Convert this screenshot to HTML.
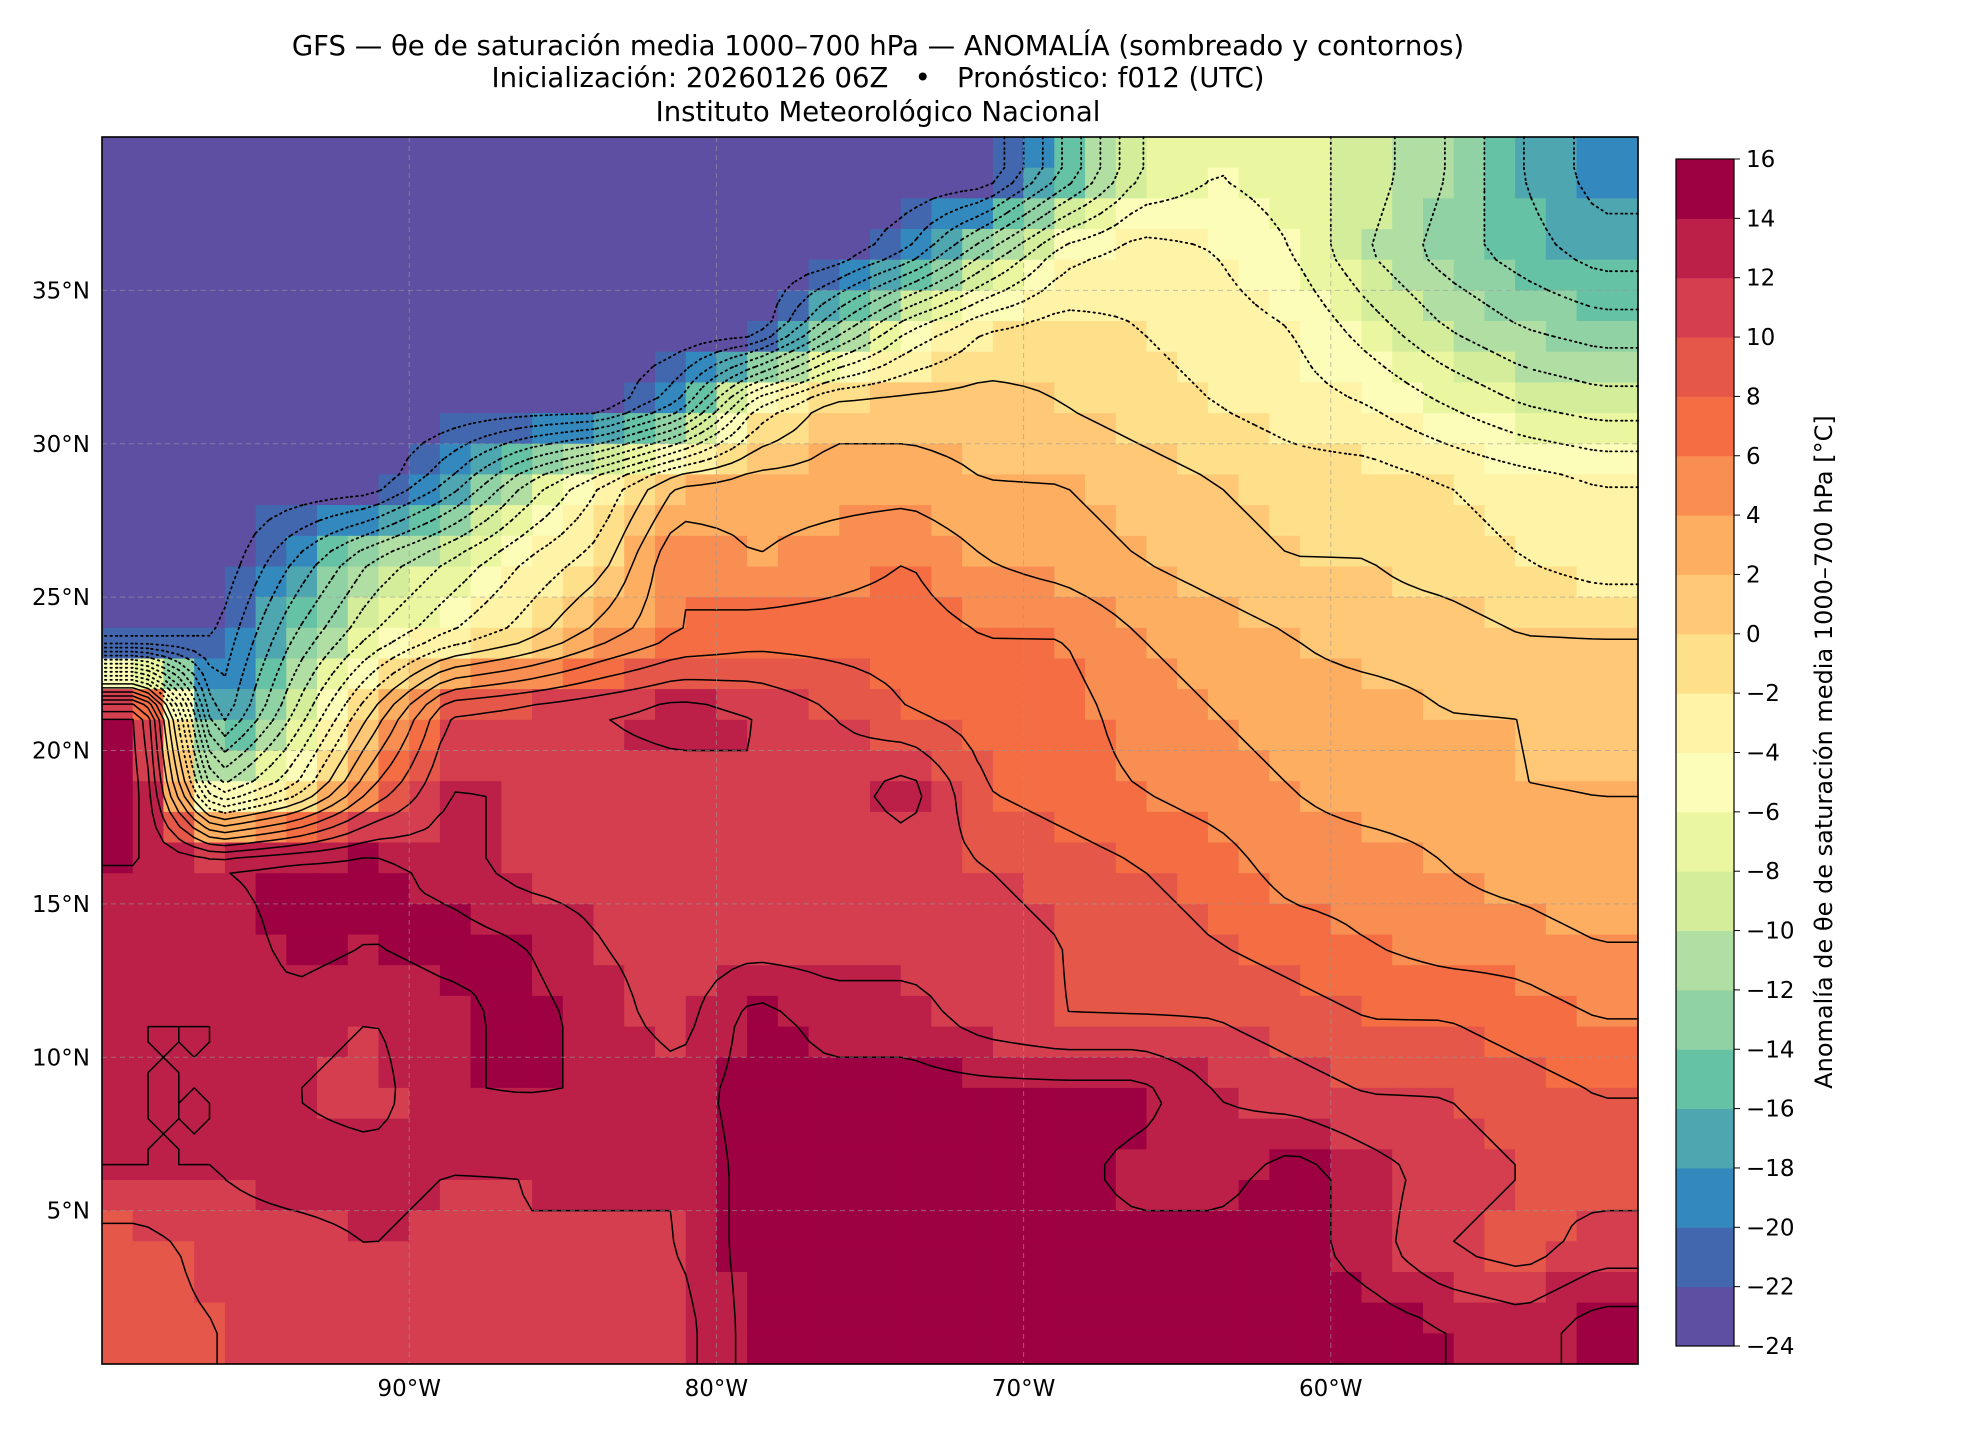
<!DOCTYPE html>
<html><head><meta charset="utf-8">
<style>
html,body{margin:0;padding:0;background:#fff;}
svg{display:block;font-family:"DejaVu Sans","Liberation Sans",sans-serif;}
</style></head>
<body>
<svg id="chart" width="1980" height="1440" viewBox="0 0 1980 1440">
  <g font-size="27.5" text-anchor="middle" fill="#000">
    <text x="878" y="55">GFS — θe de saturación media 1000–700 hPa — ANOMALÍA (sombreado y contornos)</text>
    <text x="878" y="87" xml:space="preserve">Inicialización: 20260126 06Z   •   Pronóstico: f012 (UTC)</text>
    <text x="878" y="121">Instituto Meteorológico Nacional</text>
  </g>
  <g id="field"></g>
  <g id="contours"></g>
  <g id="grid"></g>
  <rect id="frame" fill="none" stroke="#000" stroke-width="1.6"/>
  <g id="axes" font-size="23"></g>
  <g id="cbar" font-size="23"></g>
  <text transform="translate(1832,752) rotate(-90)" text-anchor="middle" font-size="24">Anomalía de θe de saturación media 1000–700 hPa [°C]</text>
</svg>
<script>
// Data: anomaly field rows (lat 38.75 -> 1.25, step 2.5), cols lon -98.75 -> -51.25 step 2.5
const lonCenters = [-98.75,-96.25,-93.75,-91.25,-88.75,-86.25,-83.75,-81.25,-78.75,-76.25,-73.75,-71.25,-68.75,-66.25,-63.75,-61.25,-58.75,-56.25,-53.75,-51.25];
const latCenters = [38.75,36.25,33.75,31.25,28.75,26.25,23.75,21.25,18.75,16.25,13.75,11.25,8.75,6.25,3.75,1.25];
const field = [
 [-24,-24,-24,-24,-24,-24,-24,-24,-24,-24,-24,-24,-16,-8,-6,-7,-9,-12,-16,-19],
 [-24,-24,-24,-24,-24,-24,-24,-24,-24,-24,-20,-12,-5,-3,-4,-6,-10,-13,-15,-17],
 [-24,-24,-24,-24,-24,-24,-24,-24,-24,-14,-6,-2,-1,-2,-3,-4,-7,-10,-12,-13],
 [-24,-24,-24,-24,-24,-24,-24,-18,-4,1,1,1,0,-1,-2,-3,-4,-6,-8,-9],
 [-24,-24,-24,-24,-18,-10,-4,2,3,3,3,2,2,1,0,-1,-1,-2,-3,-4],
 [-24,-24,-18,-12,-8,-4,-1,6,4,5,6,4,3,2,1,0,0,-1,-2,-3],
 [-24,-22,-14,-8,-4,-1,3,6,7,7,7,6,6,4,3,2,1,1,0,0],
 [14,-20,-10,0,10,11,12,13,12,10,8,7,7,5,4,3,3,2,2,1],
 [15,-10,-4,6,12,12,11,11,12,11,13,8,7,6,5,4,3,3,2,2],
 [14,14,15,15,13,11,11,11,11,11,11,10,9,8,7,5,5,4,3,2],
 [13,12,15,14,15,14,12,11,11,11,11,11,10,9,8,7,6,5,5,4],
 [12,12,13,12,13,15,13,11,15,13,13,11,10,10,10,9,8,8,7,6],
 [12,12,12,11,14,14,14,13,15,15,15,15,15,15,12,11,10,10,9,8],
 [12,12,13,13,12,12,13,12,15,15,15,15,15,13,13,15,13,11,10,9],
 [9,11,11,12,11,12,11,12,15,15,15,15,15,15,15,15,13,10,9,11],
 [9,10,11,11,11,11,11,11,15,15,15,15,15,15,15,15,15,14,13,15]
];
const levels = [-24,-22,-20,-18,-16,-14,-12,-10,-8,-6,-4,-2,0,2,4,6,8,10,12,14,16];
const colors = ["#5e4fa2","#4367ae","#3388bd","#4ea6b0","#66c2a5","#90d2a4","#b1dfa3","#d3ed9b","#eaf7a0","#fbfdb8","#fff3a7","#fee08b","#fec877","#fdae61","#f98e52","#f46d43","#e55749","#d53e4f","#bc2049","#9e0142"];
const lonTicks = [-90,-80,-70,-60];
const latTicks = [5,10,15,20,25,30,35];

const NS="http://www.w3.org/2000/svg";
const X0=102,Y0=137,W=1536,H=1227;
const fr=document.getElementById('frame');
fr.setAttribute('x',X0);fr.setAttribute('y',Y0);fr.setAttribute('width',W);fr.setAttribute('height',H);
const xOf = lon => X0 + (lon+100)/50*W;
const yOf = lat => Y0 + (40-lat)/40*H;
function el(t,a,p){const e=document.createElementNS(NS,t);for(const k in a)e.setAttribute(k,a[k]);p.appendChild(e);return e;}
function sample(lon,lat){
  let fi=(lon-lonCenters[0])/2.5, fj=(latCenters[0]-lat)/2.5;
  fi=Math.max(0,Math.min(lonCenters.length-1.001,fi));
  fj=Math.max(0,Math.min(latCenters.length-1.001,fj));
  const i=Math.floor(fi),j=Math.floor(fj),a=fi-i,b=fj-j;
  return field[j][i]*(1-a)*(1-b)+field[j][i+1]*a*(1-b)+field[j+1][i]*(1-a)*b+field[j+1][i+1]*a*b;
}
function colorFor(v){
  let k=Math.floor((v-levels[0])/2);
  k=Math.max(0,Math.min(colors.length-1,k));
  return colors[k];
}
const fieldG=document.getElementById('field');
for(let lat=40;lat>0;lat-=1){
  for(let lon=-100;lon<-50;lon+=1){
    const v=sample(lon+0.5,lat-0.5);
    const r=el('rect',{x:xOf(lon).toFixed(1),y:yOf(lat).toFixed(1),width:(W/50+0.6).toFixed(1),height:(H/40+0.6).toFixed(1),fill:colorFor(v)},fieldG);
    
    
  }
}
// contours via marching squares on 0.5° grid
const cG=document.getElementById('contours');
const step=0.5, nx=100, ny=80;
const gv=[];
for(let j=0;j<=ny;j++){gv.push([]);for(let i=0;i<=nx;i++){gv[j].push(sample(-100+i*step,40-j*step));}}
levels.slice(1,-1).forEach(lv=>{
  let d="";
  for(let j=0;j<ny;j++)for(let i=0;i<nx;i++){
    const c=[gv[j][i],gv[j][i+1],gv[j+1][i+1],gv[j+1][i]];
    const P=[[i,j],[i+1,j],[i+1,j+1],[i,j+1]];
    const pts=[];
    for(let e=0;e<4;e++){
      const a=c[e],b=c[(e+1)%4];
      if((a<lv)!==(b<lv)){
        const t=(lv-a)/(b-a);
        const px=P[e][0]+(P[(e+1)%4][0]-P[e][0])*t, py=P[e][1]+(P[(e+1)%4][1]-P[e][1])*t;
        pts.push([X0+px*step/50*W, Y0+py*step/40*H]);
      }
    }
    for(let k=0;k+1<pts.length;k+=2){
      d+="M"+pts[k][0].toFixed(1)+" "+pts[k][1].toFixed(1)+"L"+pts[k+1][0].toFixed(1)+" "+pts[k+1][1].toFixed(1);
    }
  }
  if(d){
    const p=el('path',{d:d,fill:'none',stroke:'#000','stroke-width':lv<0?1.8:1.5,'stroke-dasharray':lv<0?'1.5,4':'none','stroke-linecap':'round'},cG);
    
    
  }
});
const gridG=document.getElementById('grid'),axG=document.getElementById('axes');
lonTicks.forEach(l=>{
  const ln=el('line',{x1:xOf(l),x2:xOf(l),y1:Y0,y2:Y0+H,stroke:"#999",'stroke-dasharray':"5,4",'stroke-width':1,opacity:0.6},gridG);
  
  
  const t=el('text',{x:xOf(l),y:1396,'text-anchor':'middle'},axG);t.textContent=(-l)+"°W";
  
  
});
latTicks.forEach(l=>{
  const ln=el('line',{x1:X0,x2:X0+W,y1:yOf(l),y2:yOf(l),stroke:"#999",'stroke-dasharray':"5,4",'stroke-width':1,opacity:0.6},gridG);
  
  
  const t=el('text',{x:90,y:yOf(l)+8,'text-anchor':'end'},axG);t.textContent=l+"°N";
  
  
});
// colorbar
const cb=document.getElementById('cbar');
const CX=1676,CW=58,CT=159,CB=1346,nseg=levels.length-1;
const segH=(CB-CT)/nseg;
for(let k=0;k<nseg;k++){
  const r=el('rect',{x:CX,y:(CB-(k+1)*segH).toFixed(2),width:CW,height:(segH+0.5).toFixed(2),fill:colors[k]},cb);
  
  
}
el('rect',{x:CX,y:CT,width:CW,height:CB-CT,fill:'none',stroke:'#000','stroke-width':1.2},cb);
levels.forEach((lv,k)=>{
  const y=CB-k*segH;
  el('line',{x1:CX+CW,x2:CX+CW+6,y1:y,y2:y,stroke:'#000'},cb);
  const t=el('text',{x:CX+CW+12,y:y+8},cb);t.textContent=lv<0?"−"+(-lv):String(lv);
  
  
});
</script>
</body></html>
